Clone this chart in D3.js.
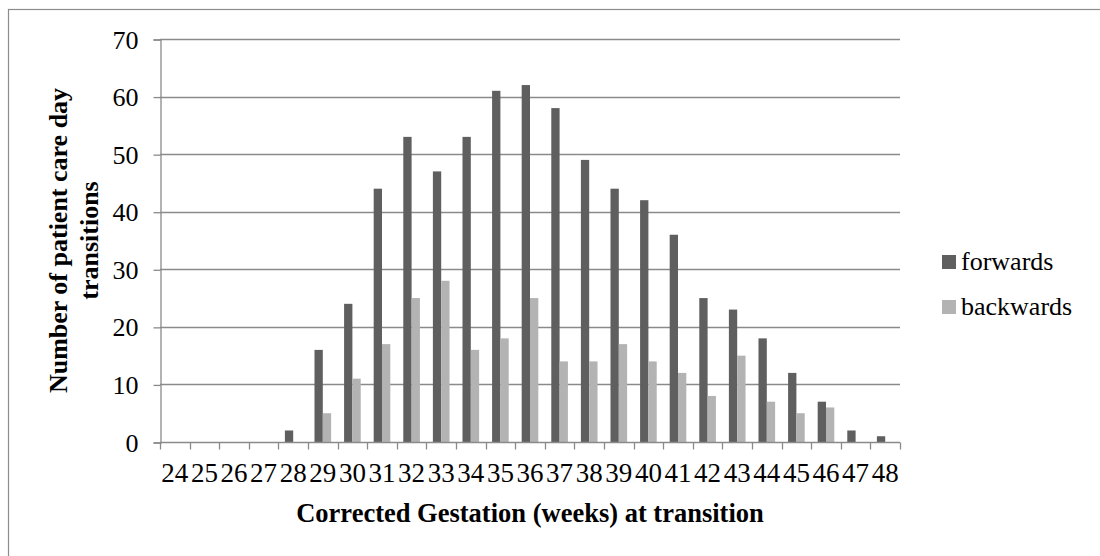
<!DOCTYPE html>
<html>
<head>
<meta charset="utf-8">
<script src="https://cdn.jsdelivr.net/npm/d3@7"></script>
<style>
  html, body { margin: 0; padding: 0; background: #fff; }
  svg { display: block; }
  svg text { font-family: "Liberation Serif", "Times New Roman", serif !important; fill: #000; }
</style>
</head>
<body>
<svg id="chart" width="1100" height="556"></svg>
<script>
const categories = ["24","25","26","27","28","29","30","31","32","33","34","35","36","37","38","39","40","41","42","43","44","45","46","47","48"];
const forwards  = [0,0,0,0,2,16,24,44,53,47,53,61,62,58,49,44,42,36,25,23,18,12,7,2,1];
const backwards = [0,0,0,0,0,5,11,17,25,28,16,18,25,14,14,17,14,12,8,15,7,5,6,0,0];
const seriesNames = ["forwards","backwards"];
const seriesColors = ["#5f5f5f","#b3b3b3"];
const yTicks = [0,10,20,30,40,50,60,70];
const xTitle = "Corrected Gestation (weeks) at transition";
const yTitleLines = ["Number of patient care day","transitions"];

const FONT = "Liberation Serif";
const svg = d3.select("#chart");
const W = 1100, H = 556;
const plot = {left: 160, right: 900, top: 39, bottom: 442};

// outer chart border (only top/left visible in the frame)
svg.append("rect").attr("x", 8.5).attr("y", 9.5).attr("width", W).attr("height", H)
  .attr("fill", "none").attr("stroke", "#8c8c8c").attr("stroke-width", 1.2);

const x0 = d3.scaleBand().domain(categories).range([plot.left, plot.right]).padding(0);
const x1 = d3.scaleBand().domain(seriesNames).range([0, x0.bandwidth()]).paddingInner(0).paddingOuter(0.78);
const y = d3.scaleLinear().domain([0, 70]).range([plot.bottom, plot.top]);

// gridlines
svg.append("g").selectAll("line").data(yTicks.filter(d => d > 0)).join("line")
  .attr("x1", plot.left).attr("x2", plot.right)
  .attr("y1", d => Math.round(y(d)) + 0.5).attr("y2", d => Math.round(y(d)) + 0.5)
  .attr("stroke", "#8a8a8a").attr("stroke-width", 1.3);

// bars
const data = categories.map((c, i) => ({cat: c, vals: [forwards[i], backwards[i]]}));
const groups = svg.append("g").selectAll("g").data(data).join("g")
  .attr("transform", d => `translate(${x0(d.cat)},0)`);
groups.selectAll("rect").data(d => d.vals.map((v, j) => ({name: seriesNames[j], v, j})))
  .join("rect")
  .attr("x", d => x1(d.name))
  .attr("width", x1.bandwidth())
  .attr("y", d => y(d.v))
  .attr("height", d => y(0) - y(d.v))
  .attr("fill", d => seriesColors[d.j]);

// y axis
const yAxis = d3.axisLeft(y).tickValues(yTicks).tickSize(7).tickPadding(15).tickFormat(d3.format("d"));
const gy = svg.append("g").attr("transform", `translate(${plot.left + 0.5},0.5)`).call(yAxis)
  .attr("font-family", FONT).attr("font-size", 26);
gy.select(".domain").attr("stroke", "#8a8a8a").attr("stroke-width", 1.3);
gy.selectAll(".tick line").attr("stroke", "#8a8a8a").attr("stroke-width", 1.3);
gy.selectAll(".tick text").attr("font-size", 26).attr("font-family", FONT).attr("fill", "#000").attr("dy", "0.33em");

// x axis (ticks at category boundaries)
const gx = svg.append("g").attr("transform", `translate(0,${Math.round(y(0)) + 0.5})`);
gx.append("line").attr("x1", plot.left).attr("x2", plot.right).attr("stroke", "#8a8a8a").attr("stroke-width", 1.3);
const boundaries = categories.map(c => x0(c)).concat([plot.right]);
gx.selectAll("line.tk").data(boundaries).join("line").attr("class", "tk")
  .attr("x1", d => Math.round(d) + 0.5).attr("x2", d => Math.round(d) + 0.5)
  .attr("y1", 0).attr("y2", 7).attr("stroke", "#8a8a8a").attr("stroke-width", 1.3);
gx.selectAll("text").data(categories).join("text")
  .attr("x", d => x0(d) + x0.bandwidth() / 2)
  .attr("y", 39)
  .attr("text-anchor", "middle")
  .attr("font-family", FONT)
  .attr("font-size", 27)
  .text(d => d);

// x title
svg.append("text").attr("x", (plot.left + plot.right) / 2).attr("y", 522)
  .attr("text-anchor", "middle").attr("font-family", FONT).attr("font-size", 26.5).attr("font-weight", "bold")
  .text(xTitle);

// y title (two lines, rotated)
const yt = svg.append("text").attr("transform", `translate(67,${(plot.top + plot.bottom) / 2}) rotate(-90)`)
  .attr("text-anchor", "middle").attr("font-family", FONT).attr("font-size", 26).attr("font-weight", "bold");
yTitleLines.forEach((t, i) => {
  yt.append("tspan").attr("x", 0).attr("y", i * 31).text(t);
});

// legend
const leg = svg.append("g");
seriesNames.forEach((n, i) => {
  const gy0 = 255 + i * 45;
  leg.append("rect").attr("x", 942).attr("y", gy0).attr("width", 14).attr("height", 14).attr("fill", seriesColors[i]);
  leg.append("text").attr("x", 961).attr("y", gy0 + 15).attr("font-family", FONT).attr("font-size", 26).text(n);
});
</script>
</body>
</html>
